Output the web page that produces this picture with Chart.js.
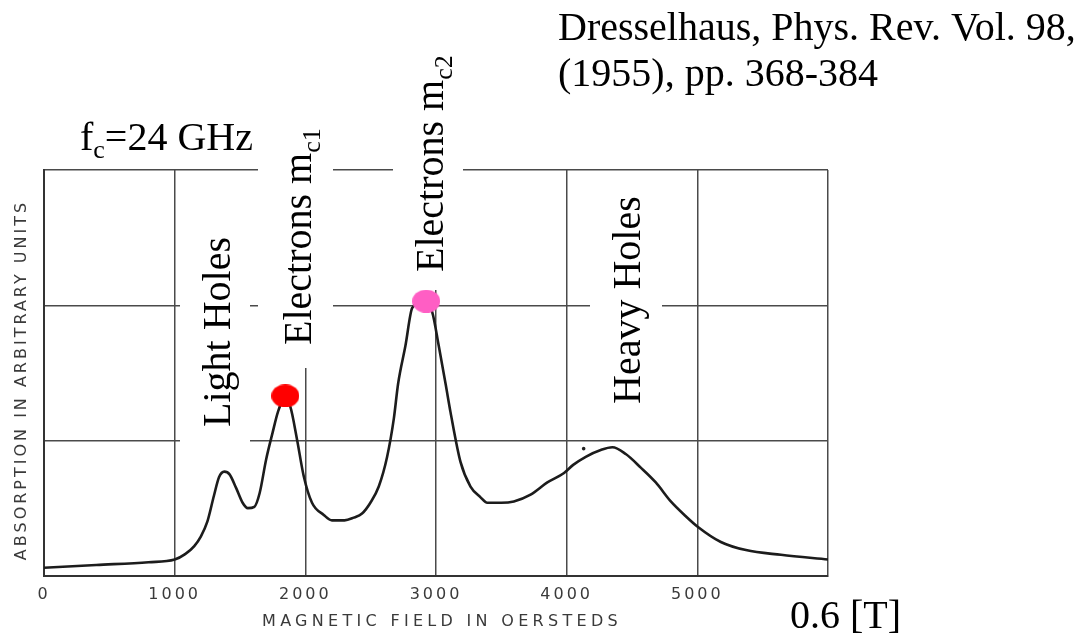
<!DOCTYPE html>
<html>
<head>
<meta charset="utf-8">
<script src="https://cdn.jsdelivr.net/npm/chart.js@4"></script>
<style>
    html, body { margin: 0; padding: 0; background: #fff; }
    #wrap { width: 1084px; height: 638px; }
</style>
</head>
<body>
<div id="wrap"><canvas id="chart" width="1084" height="638"></canvas></div>
<script>
// Absorption curve (field in oersteds, absorption in arbitrary units)
const field = [0, 400, 800, 1000, 1080, 1150, 1200, 1250, 1300, 1340, 1380, 1420, 1470, 1520, 1560,
    1610, 1650, 1700, 1750, 1790, 1840, 1885, 1936, 1987, 2051, 2141, 2204, 2300, 2370, 2434, 2498,
    2562, 2626, 2677, 2710, 2766, 2818, 2900, 2971, 3021, 3075, 3111, 3188, 3264, 3341, 3392, 3500,
    3596, 3724, 3852, 3980, 4050, 4146, 4261, 4350, 4452, 4567, 4682, 4797, 4912, 5000, 5180, 5372,
    5640, 6000];
const absorption = [0.06, 0.08, 0.10, 0.12, 0.16, 0.22, 0.29, 0.40, 0.59, 0.73, 0.77, 0.75, 0.65, 0.54, 0.50,
    0.51, 0.61, 0.86, 1.06, 1.21, 1.31, 1.25, 1.01, 0.74, 0.54, 0.45, 0.41, 0.41, 0.43, 0.46, 0.54,
    0.66, 0.88, 1.16, 1.42, 1.70, 1.98, 2.03, 1.95, 1.70, 1.41, 1.21, 0.84, 0.66, 0.58, 0.54, 0.54,
    0.55, 0.60, 0.69, 0.76, 0.82, 0.88, 0.93, 0.95, 0.90, 0.80, 0.69, 0.55, 0.44, 0.365, 0.25, 0.19,
    0.155, 0.12];

// marked peaks: electrons m_c1 and m_c2
const peak_field = [1847, 2925];
const peak_abs = [1.33, 2.03];
const peak_colors = ["#ff0000", "#ff5ec4"];

// stray speck on the scan
const speck_field = [4130];
const speck_abs = [0.94];

const x_ticks = [0, 1000, 2000, 3000, 4000, 5000, 6000];

const labels = [
    { text: "Light Holes", sub: "", bx: 230, by: 427, box: [180, 225, 250, 447] },
    { text: "Electrons m", sub: "c1", bx: 311, by: 345, box: [258, 120, 333, 368] },
    { text: "Electrons m", sub: "c2", bx: 443, by: 272, box: [393, 40, 463, 290] },
    { text: "Heavy Holes", sub: "", bx: 640, by: 404, box: [590, 185, 662, 415] },
];

/**
 * Make an ellipse image used as point style.
 */
function ellipse(color, w, h) {
    let c = document.createElement("canvas");
    c.width = w;
    c.height = h;
    let g = c.getContext("2d");
    g.fillStyle = color;
    g.beginPath();
    g.ellipse(w / 2, h / 2, w / 2, h / 2, 0, 0, Math.PI * 2);
    g.fill();
    return c;
}

const serif = "'Liberation Serif', 'Times New Roman', serif";
const sans = "'DejaVu Sans', sans-serif";

const annotations = {
    id: "annotations",
    beforeDraw(chart) {
        chart.ctx.letterSpacing = "3px";
    },
    beforeDatasetsDraw(chart) {
        let ctx = chart.ctx;
        ctx.save();
        ctx.letterSpacing = "0px";
        // white patches behind the labels, they break the grid
        ctx.fillStyle = "#fff";
        labels.forEach((l) => {
            ctx.fillRect(l.box[0], l.box[1], l.box[2] - l.box[0], l.box[3] - l.box[1]);
        });

        ctx.fillStyle = "#000";
        ctx.textBaseline = "alphabetic";
        ctx.textAlign = "left";
        labels.forEach((l) => {
            ctx.save();
            ctx.translate(l.bx, l.by);
            ctx.rotate(-Math.PI / 2);
            ctx.font = `40px ${serif}`;
            ctx.fillText(l.text, 0, 0);
            if (l.sub) {
                let w = ctx.measureText(l.text).width;
                ctx.font = `26px ${serif}`;
                ctx.fillText(l.sub, w, 9);
            }
            ctx.restore();
        });

        // f_c=24 GHz
        ctx.font = `40px ${serif}`;
        ctx.fillText("f", 80, 150);
        let fx = 80 + ctx.measureText("f").width;
        ctx.font = `26px ${serif}`;
        ctx.fillText("c", fx, 158);
        fx += ctx.measureText("c").width;
        ctx.font = `40px ${serif}`;
        ctx.fillText("=24 GHz", fx, 150);

        // reference
        ctx.fillText("Dresselhaus, Phys. Rev. Vol. 98,", 558, 40);
        ctx.fillText("(1955), pp. 368-384", 558, 86);
        ctx.fillText("0.6 [T]", 790, 628);

        // axis titles
        ctx.fillStyle = "#3a3a3a";
        ctx.font = `16px ${sans}`;
        ctx.letterSpacing = "4.3px";
        ctx.textAlign = "center";
        ctx.textBaseline = "middle";
        ctx.fillText("MAGNETIC FIELD IN OERSTEDS", 442, 622);
        ctx.save();
        ctx.translate(22, 380);
        ctx.rotate(-Math.PI / 2);
        ctx.font = `16px ${sans}`;
        ctx.letterSpacing = "3px";
        ctx.fillText("ABSORPTION IN ARBITRARY UNITS", 0, 0);
        ctx.restore();
        ctx.restore();
    }
};

window.onload = () => {
    let el = document.querySelector("#chart");
    let curve = field.map((f, i) => ({ x: f, y: absorption[i] }));
    let peaks = peak_field.map((f, i) => ({ x: f, y: peak_abs[i] }));
    let speck = speck_field.map((f, i) => ({ x: f, y: speck_abs[i] }));

    new Chart(el, {
        type: "scatter",
        data: {
            datasets: [
                {
                    data: peaks,
                    showLine: false,
                    pointStyle: peak_colors.map((c) => ellipse(c, 28, 23)),
                    pointRadius: 12,
                },
                {
                    data: speck,
                    showLine: false,
                    pointRadius: 1.8,
                    backgroundColor: "#222",
                    borderWidth: 0,
                },
                {
                    data: curve,
                    showLine: true,
                    borderColor: "#1c1c1c",
                    borderWidth: 2.6,
                    pointRadius: 0,
                    cubicInterpolationMode: "monotone",
                },
            ]
        },
        options: {
            responsive: false,
            animation: false,
            events: [],
            layout: { padding: { left: 44, right: 256, top: 170, bottom: 25 } },
            plugins: { legend: { display: false }, tooltip: { enabled: false } },
            scales: {
                x: {
                    type: "linear",
                    min: 0,
                    max: 6000,
                    afterBuildTicks: (axis) => {
                        axis.ticks = x_ticks.map((v) => ({ value: v }));
                    },
                    ticks: {
                        padding: 9,
                        color: "#3a3a3a",
                        font: { family: "DejaVu Sans", size: 16 },
                        callback: (v) => (v === 6000 ? "" : String(v)),
                        maxRotation: 0,
                        autoSkip: false,
                    },
                    grid: { color: "#4a4a4a", lineWidth: 1.5, drawTicks: false },
                    border: { display: true, color: "#333", width: 2 },
                },
                y: {
                    min: 0,
                    max: 3,
                    ticks: { display: false, stepSize: 1 },
                    grid: { color: "#4a4a4a", lineWidth: 1.5, drawTicks: false },
                    border: { display: true, color: "#333", width: 2 },
                }
            }
        },
        plugins: [annotations]
    });
};
</script>
</body>
</html>
